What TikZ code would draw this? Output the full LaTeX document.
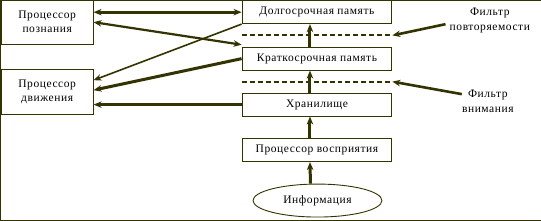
\documentclass[tikz,border=0pt]{standalone}
\usepackage{fontspec}
\setmainfont[LetterSpace=5]{Liberation Serif}
\usetikzlibrary{arrows.meta,calc,positioning,shapes.geometric}
\definecolor{lineol}{RGB}{51,51,0}

\begin{document}
\begin{tikzpicture}[>={Stealth[length=8pt,width=6.5pt]},x=1pt,y=-1pt,
    font=\fontsize{11.5}{14}\selectfont,
    every path/.style={draw=lineol},
    box/.style={draw=lineol,line width=0.9pt,minimum width=150pt,minimum height=23pt,inner sep=0pt},
    proc/.style={draw=lineol,line width=0.9pt,minimum width=92pt,minimum height=45pt,align=center,inner sep=0pt},
    gate/.style={lineol,line width=2pt,dash pattern=on 5pt off 3pt}]
    \useasboundingbox (0,0) rectangle (541,220);

    \node[proc] (cog) at (47,22) {Процессор\\познания};
    \node[proc] (mot) at (47,92) {Процессор\\движения};
    \node[box] (ltm) at (317,12) {Долгосрочная память};
    \node[box] (stm) at (317,58.5) {Краткосрочная память};
    \node[box] (store) at (317,104.5) {Хранилище};
    \node[box] (perc) at (317,150) {Процессор восприятия};
    \node[ellipse,draw=lineol,line width=0.9pt,minimum width=129pt,minimum height=33pt] (info) at (317.5,200.5) {Информация};
    \node[align=center,inner sep=0pt,font=\fontsize{11.5}{15}\selectfont] (frep) at (490,20) {Фильтр\\повторяемости};
    \node[align=center,inner sep=0pt,font=\fontsize{11.5}{15}\selectfont] (fatt) at (488,101) {Фильтр\\внимания};

    \coordinate (repW) at ($(ltm.south west)!0.5!(stm.north west)$);
    \coordinate (repE) at ($(ltm.south east)!0.5!(stm.north east)$);
    \coordinate (attW) at ($(stm.south west)!0.5!(store.north west)$);
    \coordinate (attE) at ($(stm.south east)!0.5!(store.north east)$);
    \draw[gate] (repW) -- (repE);
    \draw[gate] (attW) -- (attE);

    \draw[<->,line width=3pt] (ltm.west) -- (ltm.west -| cog.east);
    \draw[<->,line width=2.2pt] (cog.east) -- ([yshift=2pt]stm.north west);
    \draw[->,line width=1.6pt] (ltm.south west) -- ([yshift=-11pt]mot.north east);
    \draw[->,line width=3pt] (stm.west) -- ([yshift=2pt]mot.east);
    \draw[->,line width=2.4pt] (store.west) -- (store.west -| mot.east);

    \draw[->,line width=3pt] ([xshift=-7pt]stm.north) -- ([xshift=-7pt]ltm.south);
    \draw[->,line width=3pt] ([xshift=-7pt]store.north) -- ([xshift=-7pt]stm.south);
    \draw[->,line width=3pt] ([xshift=-7pt]perc.north) -- ([xshift=-7pt]store.south);
    \draw[->,line width=3pt] ([xshift=-7pt]info.north) -- ([xshift=-7pt]perc.south);

    \draw[->,line width=2.6pt] ($(frep.west)+(-4,4)$) -- (repE);
    \draw[->,line width=2.6pt] ($(fatt.west)+(0,-7)$) -- (attE);
\end{tikzpicture}
\end{document}
